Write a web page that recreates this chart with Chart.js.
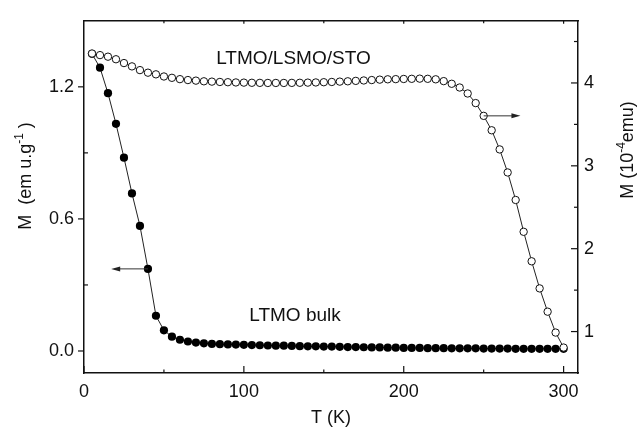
<!DOCTYPE html>
<html>
<head>
<meta charset="utf-8">
<script src="https://cdn.jsdelivr.net/npm/chart.js@4.4.0/dist/chart.umd.min.js"></script>
<style>
  html, body { margin: 0; padding: 0; background: #fff; }
  canvas { display: block; }
</style>
</head>
<body>
<canvas id="mtChart" width="641" height="433"></canvas>
<script>
// temperatures (K), same grid for both samples
const temps = [5, 10, 15, 20, 25, 30, 35, 40, 45, 50, 55, 60, 65, 70, 75, 80, 85, 90, 95, 100,
  105, 110, 115, 120, 125, 130, 135, 140, 145, 150, 155, 160, 165, 170, 175, 180, 185, 190, 195, 200,
  205, 210, 215, 220, 225, 230, 235, 240, 245, 250, 255, 260, 265, 270, 275, 280, 285, 290, 295, 300];

// LTMO bulk, M in emu/g (left axis)
const bulkM = [1.35, 1.287, 1.171, 1.032, 0.878, 0.716, 0.568, 0.373, 0.160, 0.094,
  0.065, 0.051, 0.043, 0.038, 0.035, 0.032, 0.031, 0.030, 0.029, 0.028,
  0.027, 0.026, 0.025, 0.024, 0.024, 0.023, 0.022, 0.021, 0.021, 0.020,
  0.020, 0.019, 0.018, 0.018, 0.017, 0.016, 0.016, 0.015, 0.015, 0.014,
  0.014, 0.014, 0.013, 0.013, 0.013, 0.012, 0.012, 0.012, 0.012, 0.011,
  0.011, 0.011, 0.011, 0.010, 0.010, 0.010, 0.010, 0.010, 0.010, 0.010];

// LTMO/LSMO/STO film, M in 1e-4 emu (right axis)
const filmM = [4.355, 4.336, 4.317, 4.286, 4.240, 4.200, 4.155, 4.124, 4.104, 4.078,
  4.062, 4.046, 4.035, 4.028, 4.020, 4.016, 4.012, 4.009, 4.006, 4.004,
  4.002, 4.001, 4.000, 4.000, 4.000, 4.001, 4.002, 4.004, 4.006, 4.009,
  4.012, 4.016, 4.020, 4.025, 4.030, 4.035, 4.040, 4.044, 4.046, 4.048,
  4.050, 4.052, 4.050, 4.044, 4.022, 3.990, 3.945, 3.873, 3.757, 3.603,
  3.429, 3.198, 2.920, 2.588, 2.204, 1.848, 1.521, 1.240, 0.988, 0.807];

const xTicks = [0, 100, 200, 300];
const xMinorTicks = [50, 150, 250];
const leftTicks = [0, 0.6, 1.2];
const leftMinorTicks = [0.3, 0.9];
const rightTicks = [1, 2, 3, 4];
const rightMinorTicks = [1.5, 2.5, 3.5, 4.5];

// text notes in data units (T, left-axis M)
const notes = [
  { text: "LTMO/LSMO/STO", t: 131, m: 1.326 },
  { text: "LTMO bulk", t: 132, m: 0.16 }
];
// arrows pointing at each curve's axis
const arrows = [
  { axis: "y", from: 40, to: 17, value: 0.373 },
  { axis: "y2", from: 250, to: 273, value: 3.603 }
];

const ink = "#111";
const fontFamily = "'Liberation Sans', Arial, Helvetica, sans-serif";
Chart.defaults.font.family = fontFamily;
Chart.defaults.color = ink;

function fixedTicks(values) {
  return function (scale) {
    scale.ticks = values.map(function (v) { return { value: v }; });
  };
}

function drawRotatedTitle(ctx, x, y, parts) {
  ctx.save();
  ctx.translate(x, y);
  ctx.rotate(-Math.PI / 2);
  ctx.textBaseline = "alphabetic";
  ctx.textAlign = "left";
  let total = 0;
  parts.forEach(function (p) {
    ctx.font = (p.sup ? "12px " : "18px ") + fontFamily;
    p.w = ctx.measureText(p.text).width;
    total += p.w;
  });
  let pos = -total / 2;
  parts.forEach(function (p) {
    ctx.font = (p.sup ? "12px " : "18px ") + fontFamily;
    ctx.fillText(p.text, pos, p.sup ? -8 : 0);
    pos += p.w;
  });
  ctx.restore();
}

const decorations = {
  id: "decorations",
  afterDraw(chart) {
    const { ctx, chartArea: a, scales } = chart;
    ctx.save();
    ctx.strokeStyle = ink;
    ctx.fillStyle = ink;
    ctx.lineWidth = 1.2;

    function seg(x1, y1, x2, y2) {
      ctx.beginPath();
      ctx.moveTo(x1, y1);
      ctx.lineTo(x2, y2);
      ctx.stroke();
    }

    // tick marks
    xTicks.forEach(function (v) {
      const x = scales.x.getPixelForValue(v);
      seg(x, a.bottom, x, a.bottom - 7);
      if (v > 0) seg(x, a.top, x, a.top + 3);
    });
    xMinorTicks.forEach(function (v) {
      const x = scales.x.getPixelForValue(v);
      seg(x, a.bottom, x, a.bottom - 3.5);
      seg(x, a.top, x, a.top + 2.5);
    });
    leftTicks.forEach(function (v) {
      const y = scales.y.getPixelForValue(v);
      seg(a.left - 6, y, a.left, y);
    });
    leftMinorTicks.forEach(function (v) {
      const y = scales.y.getPixelForValue(v);
      seg(a.left, y, a.left + 4, y);
    });
    rightTicks.forEach(function (v) {
      const y = scales.y2.getPixelForValue(v);
      seg(a.right, y, a.right - 7, y);
    });
    rightMinorTicks.forEach(function (v) {
      const y = scales.y2.getPixelForValue(v);
      seg(a.right, y, a.right - 4, y);
    });

    // arrows
    ctx.strokeStyle = "#333";
    ctx.fillStyle = "#222";
    ctx.lineWidth = 1;
    arrows.forEach(function (ar) {
      const y = scales[ar.axis].getPixelForValue(ar.value);
      const x1 = scales.x.getPixelForValue(ar.from);
      const x2 = scales.x.getPixelForValue(ar.to);
      const dir = x2 > x1 ? 1 : -1;
      seg(x1, y, x2 - dir * 8, y);
      ctx.beginPath();
      ctx.moveTo(x2, y);
      ctx.lineTo(x2 - dir * 9, y - 2.5);
      ctx.lineTo(x2 - dir * 9, y + 2.5);
      ctx.closePath();
      ctx.fill();
    });

    // notes
    ctx.fillStyle = ink;
    ctx.font = "19px " + fontFamily;
    ctx.textAlign = "center";
    ctx.textBaseline = "middle";
    notes.forEach(function (n) {
      ctx.fillText(n.text, scales.x.getPixelForValue(n.t), scales.y.getPixelForValue(n.m));
    });

    // y axis titles (both read bottom to top)
    drawRotatedTitle(ctx, 31, 176, [
      { text: "M  (em u.g" }, { text: "-1", sup: true }, { text: " )" }
    ]);
    drawRotatedTitle(ctx, 633, 150, [
      { text: "M (10" }, { text: "-4", sup: true }, { text: "emu)" }
    ]);
    ctx.restore();
  }
};

const axisBorder = { display: true, color: ink, width: 1.5 };
const noGrid = { display: false, drawTicks: false };

new Chart(document.getElementById("mtChart").getContext("2d"), {
  type: "line",
  data: {
    datasets: [
      {
        label: "LTMO/LSMO/STO",
        data: temps.map(function (t, i) { return { x: t, y: filmM[i] }; }),
        yAxisID: "y2",
        borderColor: "#222",
        borderWidth: 1,
        pointRadius: 3.7,
        pointBackgroundColor: "#fff",
        pointBorderColor: "#111",
        pointBorderWidth: 1,
        tension: 0
      },
      {
        label: "LTMO bulk",
        data: temps.map(function (t, i) { return { x: t, y: bulkM[i] }; }),
        yAxisID: "y",
        borderColor: "#222",
        borderWidth: 1,
        pointRadius: 4.1,
        pointBackgroundColor: "#000",
        pointBorderColor: "#000",
        pointBorderWidth: 0,
        tension: 0
      }
    ]
  },
  options: {
    responsive: false,
    animation: false,
    layout: { padding: { top: 5, left: 0, right: 0, bottom: 0 } },
    plugins: { legend: { display: false }, tooltip: { enabled: false } },
    scales: {
      x: {
        type: "linear", position: "bottom", min: 0, max: 309,
        afterBuildTicks: fixedTicks(xTicks),
        afterFit: function (s) { s.height = 60; },
        grid: noGrid, border: axisBorder,
        ticks: { font: { size: 18 }, padding: 8, maxRotation: 0 },
        title: { display: true, text: "T (K)", font: { size: 18 }, padding: { top: 0, bottom: 4 } }
      },
      x2: {
        type: "linear", position: "top", min: 0, max: 309,
        ticks: { display: false },
        afterFit: function (s) { s.height = 0; },
        grid: noGrid, border: axisBorder
      },
      y: {
        type: "linear", position: "left", min: -0.1, max: 1.5,
        afterBuildTicks: fixedTicks(leftTicks),
        afterFit: function (s) { s.width = 84; },
        grid: noGrid, border: axisBorder,
        ticks: { font: { size: 18 }, padding: 10, callback: function (v) { return v.toFixed(1); } }
      },
      y2: {
        type: "linear", position: "right", min: 0.5, max: 4.75,
        afterBuildTicks: fixedTicks(rightTicks),
        afterFit: function (s) { s.width = 63; },
        grid: noGrid, border: axisBorder,
        ticks: { font: { size: 18 }, padding: 6, callback: function (v) { return String(v); } }
      }
    }
  },
  plugins: [decorations]
});
</script>
</body>
</html>
